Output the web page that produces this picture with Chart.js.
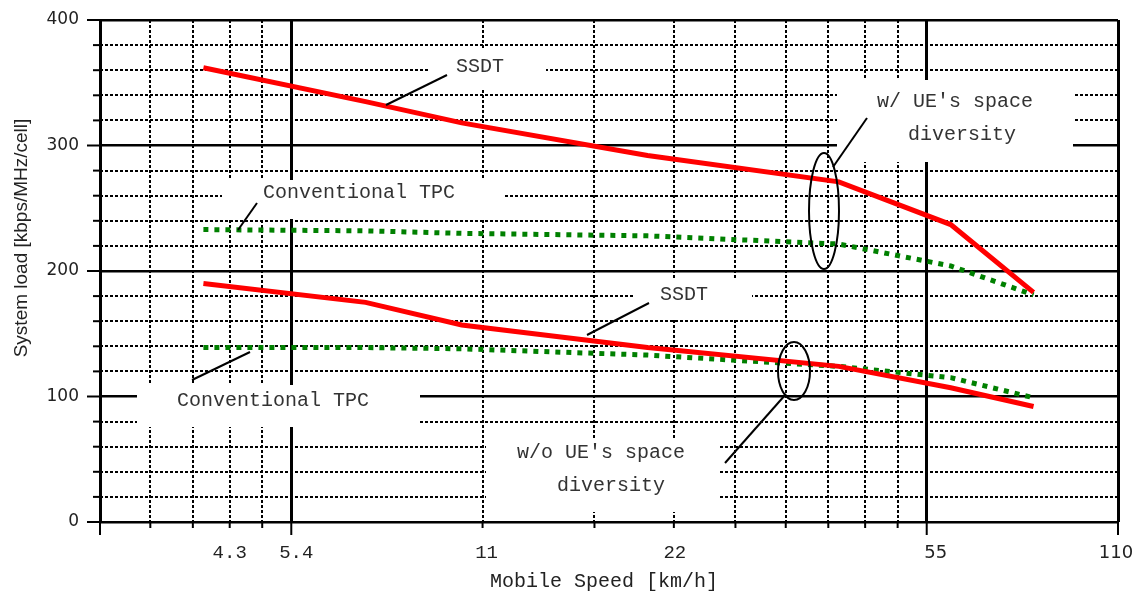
<!DOCTYPE html>
<html>
<head>
<meta charset="utf-8">
<script src="https://cdn.jsdelivr.net/npm/chart.js@4/dist/chart.umd.min.js"></script>
<style>
  body { margin: 0; background: #fff; }
  #wrap { width: 1141px; height: 595px; }
</style>
</head>
<body>
<div id="wrap"><canvas id="chart" width="1141" height="595"></canvas></div>
<script>
// values
const speeds = [4, 7.2, 10.2, 20, 40, 60, 81];
const ssdtWith = [362, 335, 318, 292, 271, 237, 183];
const tpcWith = [233, 232, 230, 228, 221.5, 204, 181];
const ssdtWithout = [190, 175, 157, 139, 124, 107, 92];
const tpcWithout = [139, 139, 138, 133, 124, 115, 99];

// axis ticks
const xGrid = [2.75, 3.3, 3.85, 4.4, 4.95, 5.5, 11, 16.5, 22, 27.5, 33, 38.5, 44, 49.5, 55, 110];
const xMajor = [2.75, 5.5, 55, 110];
const xTickValues = [4.4, 5.5, 11, 22, 55, 110];
const xTickLabels = ['4.3', '5.4', '11', '22', '55', '110'];
const xLabelNudge = [0, 5, 4, 1, 9, -2];
const yMin = 0, yMax = 400, yStep = 20, yMajorStep = 100;

const same = (a, b) => Math.abs(a - b) < 1e-6;
const isXMajor = v => xMajor.some(m => same(m, v));
const toPts = ys => speeds.map((s, i) => ({ x: s, y: ys[i] }));

const RED = '#ff0000';
const GREEN = '#008000';
const mono = '"Liberation Mono", monospace';

const lineSet = (data, color, dotted) => ({
  data: toPts(data),
  borderColor: color,
  borderWidth: 5,
  borderDash: dotted ? [5, 6] : [],
  borderCapStyle: 'butt',
  pointRadius: 0,
  tension: 0,
  fill: false
});

// labels, pointers and ellipses
const notes = [
  { box: [430, 50, 116, 40], lines: [['SSDT', 480, 67]], lead: [386, 105, 447, 75] },
  { box: [222, 180, 281, 39], lines: [['Conventional TPC', 359, 193]], lead: [238, 230, 257, 203] },
  { box: [837, 80, 236, 82], lines: [["w/ UE's space", 955, 102], ['diversity', 962, 135]], lead: [833, 167, 867, 118] },
  { box: [633, 280, 119, 40], lines: [['SSDT', 684, 295]], lead: [587, 335, 649, 303] },
  { box: [137, 385, 283, 42], lines: [['Conventional TPC', 273, 401]], lead: [192, 380, 250, 352] },
  { box: [486, 438, 234, 74], lines: [["w/o UE's space", 601, 453], ['diversity', 611, 486]], lead: [725, 463, 786, 394] }
];
const ellipses = [[824, 211, 15, 58], [794, 371, 16, 29]];

const deco = {
  id: 'deco',
  beforeDatasetsDraw(chart) {
    const c = chart.ctx;
    c.save();
    c.fillStyle = '#fff';
    notes.forEach(n => c.fillRect(n.box[0], n.box[1], n.box[2], n.box[3]));
    c.fillStyle = '#333';
    c.font = '20px ' + mono;
    c.textAlign = 'center';
    c.textBaseline = 'middle';
    notes.forEach(n => n.lines.forEach(t => c.fillText(t[0], t[1], t[2])));
    c.restore();
  },
  afterDatasetsDraw(chart) {
    const c = chart.ctx;
    c.save();
    c.strokeStyle = '#000';
    c.lineWidth = 2;
    notes.forEach(n => {
      c.beginPath();
      c.moveTo(n.lead[0], n.lead[1]);
      c.lineTo(n.lead[2], n.lead[3]);
      c.stroke();
    });
    ellipses.forEach(e => {
      c.beginPath();
      c.ellipse(e[0], e[1], e[2], e[3], 0, 0, Math.PI * 2);
      c.stroke();
    });
    c.restore();
  },
  afterDraw(chart) {
    const c = chart.ctx;
    const xs = chart.scales.x, ys = chart.scales.y;
    const area = chart.chartArea;
    c.save();
    c.strokeStyle = '#000';
    c.lineWidth = 2;
    xGrid.forEach(v => {
      const px = xs.getPixelForValue(v);
      c.beginPath();
      c.moveTo(px, area.bottom);
      c.lineTo(px, area.bottom + (isXMajor(v) ? 13 : 6));
      c.stroke();
    });
    for (let v = yMin; v <= yMax; v += yStep) {
      const py = ys.getPixelForValue(v);
      c.beginPath();
      c.moveTo(area.left, py);
      c.lineTo(area.left - (v % yMajorStep === 0 ? 13 : 7), py);
      c.stroke();
    }
    // x tick labels
    c.fillStyle = '#222';
    c.textAlign = 'center';
    c.textBaseline = 'middle';
    xTickValues.forEach((v, i) => {
      c.font = v >= 55 ? '18px "DejaVu Sans", sans-serif' : '19px ' + mono;
      c.fillText(xTickLabels[i], xs.getPixelForValue(v) + xLabelNudge[i], 553);
    });
    c.font = '20px ' + mono;
    c.fillText('Mobile Speed [km/h]', 604, 582);
    c.translate(22, 238);
    c.rotate(-Math.PI / 2);
    c.font = '19px "Liberation Sans", Arial, sans-serif';
    c.fillText('System load [kbps/MHz/cell]', 0, 0);
    c.restore();
  }
};

new Chart(document.getElementById('chart'), {
  type: 'line',
  data: {
    datasets: [
      lineSet(ssdtWith, RED, false),
      lineSet(tpcWith, GREEN, true),
      lineSet(ssdtWithout, RED, false),
      lineSet(tpcWithout, GREEN, true)
    ]
  },
  plugins: [deco],
  options: {
    responsive: false,
    animation: false,
    devicePixelRatio: 1,
    layout: { padding: { left: 0, right: 23, top: 20, bottom: 0 } },
    plugins: { legend: { display: false }, tooltip: { enabled: false } },
    scales: {
      x: {
        type: 'logarithmic',
        min: 2.75,
        max: 110,
        afterBuildTicks: s => { s.ticks = xGrid.map(v => ({ value: v })); },
        afterFit: s => { s.height = 73; s.paddingLeft = 0; s.paddingRight = 0; },
        grid: {
          drawTicks: false,
          color: '#000',
          lineWidth: ctx => (ctx.tick && isXMajor(ctx.tick.value)) ? 3 : 2
        },
        border: {
          display: false,
          dash: ctx => (ctx.tick && !isXMajor(ctx.tick.value)) ? [3, 2] : []
        },
        ticks: {
          autoSkip: false,
          maxRotation: 0,
          callback: () => ''
        }
      },
      y: {
        min: yMin,
        max: yMax,
        afterFit: s => { s.width = 100; s.paddingTop = 0; s.paddingBottom = 0; },
        grid: {
          drawTicks: false,
          color: '#000',
          lineWidth: ctx => (ctx.tick && ctx.tick.value % yMajorStep === 0) ? 2.5 : 2
        },
        border: {
          display: false,
          dash: ctx => (ctx.tick && ctx.tick.value % yMajorStep !== 0) ? [3, 2] : []
        },
        ticks: {
          stepSize: yStep,
          padding: 21,
          color: '#222',
          font: { family: 'DejaVu Sans', size: 17 },
          callback: v => v % yMajorStep === 0 ? String(v) : ''
        }
      }
    }
  }
});
</script>
</body>
</html>
